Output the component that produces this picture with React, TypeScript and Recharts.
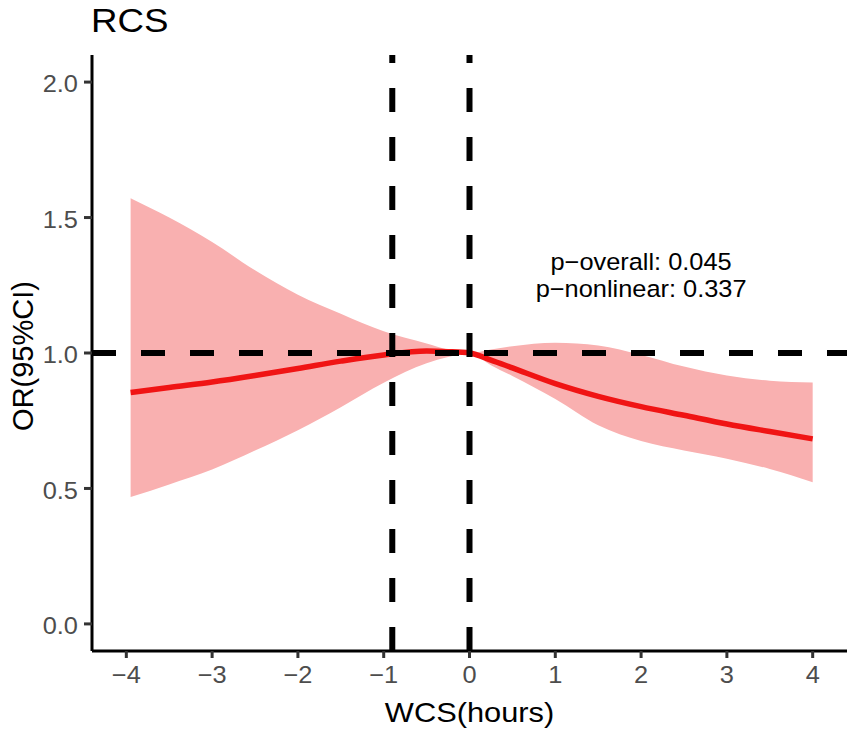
import React from 'react';
import {
  Area,
  ComposedChart,
  Label,
  Line,
  ReferenceDot,
  ReferenceLine,
  XAxis,
  YAxis,
} from 'recharts';

// WCS (hours) grid the spline was evaluated on
const wcs = [-3.95, -3.5, -3, -2.5, -2, -1.5, -1, -0.5, -0.25, 0, 0.25, 0.5, 1, 1.5, 2, 2.5, 3, 3.5, 4];
// fitted odds ratio
const orFit = [0.854, 0.873, 0.893, 0.917, 0.943, 0.97, 0.993, 1.007, 1.005, 1.0, 0.974, 0.945, 0.887, 0.84, 0.802, 0.77, 0.738, 0.71, 0.683];
// 95% CI
const ciLow = [0.468, 0.515, 0.57, 0.64, 0.715, 0.8, 0.89, 0.962, 0.985, 1.0, 0.955, 0.915, 0.83, 0.733, 0.675, 0.64, 0.61, 0.572, 0.523];
const ciHigh = [1.571, 1.5, 1.41, 1.305, 1.215, 1.145, 1.08, 1.035, 1.013, 1.0, 1.013, 1.025, 1.038, 1.028, 0.993, 0.95, 0.917, 0.898, 0.891];

const xTicks = [-4, -3, -2, -1, 0, 1, 2, 3, 4];
const yTicks = [0, 0.5, 1, 1.5, 2];
const knots = [-0.9, 0];
const pLines = ['p\u2212overall: 0.045', 'p\u2212nonlinear: 0.337'];

const data = wcs.map((x, i) => ({ x, fit: orFit[i], band: [ciLow[i], ciHigh[i]] }));

const FONT = '"Liberation Sans", Arial, sans-serif';
// the original export is a little wider than tall, so glyphs are stretched sideways
const SX = 1.08;
const fmtX = (v: number) => (v < 0 ? '\u2212' + Math.abs(v) : String(v));

function Wide({ x, y, size, anchor = 'start', fill = '#000', children }: any) {
  return (
    <text
      x={x}
      y={y}
      textAnchor={anchor}
      fontSize={size}
      fill={fill}
      fontFamily={FONT}
      transform={`translate(${x} ${y}) scale(${SX} 1) translate(${-x} ${-y})`}
    >
      {children}
    </text>
  );
}

const XTick = (p: any) => (
  <Wide x={p.x} y={p.y + 0.71 * 23.5} size={23.5} anchor="middle" fill="#4d4d4d">
    {fmtX(p.payload.value)}
  </Wide>
);

const YTick = (p: any) => (
  <Wide x={p.x} y={p.y + 0.355 * 23.5 + 2} size={23.5} anchor="end" fill="#4d4d4d">
    {p.payload.value.toFixed(1)}
  </Wide>
);

export default function App() {
  return (
    <div style={{ position: 'absolute', left: 0, top: 0, width: 851, height: 734, background: '#fff', fontFamily: FONT }}>
      <svg width={851} height={50} style={{ position: 'absolute', left: 0, top: 0 }}>
        <Wide x={91} y={32} size={34}>RCS</Wide>
      </svg>
      <ComposedChart
        width={851}
        height={734}
        data={data}
        margin={{ top: 55, right: 4, bottom: 0, left: 0 }}
        style={{ fontFamily: FONT }}
      >
        <XAxis
          type="number"
          dataKey="x"
          domain={[-4.4, 4.4]}
          ticks={xTicks}
          height={83}
          allowDataOverflow
          axisLine={{ stroke: '#000', strokeWidth: 3 }}
          tickLine={{ stroke: '#333', strokeWidth: 3 }}
          tickSize={7}
          tickMargin={8}
          tick={XTick}
        >
          <Label
            content={({ viewBox }: any) => (
              <Wide x={viewBox.x + viewBox.width / 2} y={viewBox.y + 71} size={28.5} anchor="middle">
                WCS(hours)
              </Wide>
            )}
          />
        </XAxis>
        <YAxis
          type="number"
          domain={[-0.1, 2.1]}
          ticks={yTicks}
          width={92}
          allowDataOverflow
          axisLine={{ stroke: '#000', strokeWidth: 3 }}
          tickLine={{ stroke: '#333', strokeWidth: 3 }}
          tickSize={8}
          tickMargin={6}
          tick={YTick}
        >
          <Label
            content={({ viewBox }: any) => {
              const cx = 33;
              const cy = viewBox.y + viewBox.height / 2 + 3;
              return (
                <text x={cx} y={cy} transform={`rotate(-90, ${cx}, ${cy})`} textAnchor="middle" fontSize={29} fill="#000" fontFamily={FONT}>
                  OR(95%CI)
                </text>
              );
            }}
          />
        </YAxis>
        <Area
          type="monotone"
          dataKey="band"
          stroke="none"
          fill="#f9b0b0"
          fillOpacity={1}
          isAnimationActive={false}
        />
        <Line
          type="monotone"
          dataKey="fit"
          stroke="#f01414"
          strokeWidth={5.5}
          dot={false}
          isAnimationActive={false}
        />
        <ReferenceLine y={1} stroke="#000" strokeWidth={6} strokeDasharray="24 25" />
        {knots.map((k) => (
          <ReferenceLine key={k} x={k} stroke="#000" strokeWidth={6} strokeDasharray="24 25" />
        ))}
        <ReferenceDot
          x={2}
          y={1.3}
          r={0}
          shape={(p: any) => (
            <g>
              {pLines.map((t, i) => (
                <Wide key={t} x={p.cx} y={p.cy - 2 + i * 27} size={23.5} anchor="middle">
                  {t}
                </Wide>
              ))}
            </g>
          )}
        />
      </ComposedChart>
    </div>
  );
}
